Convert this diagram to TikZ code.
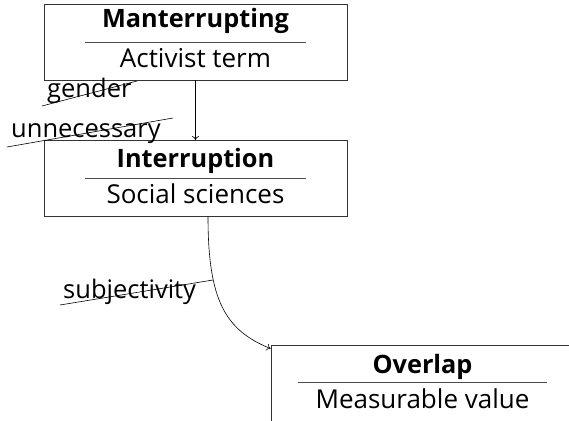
\documentclass[tikz,border=0pt]{standalone}
\usepackage{fontspec}
\setmainfont{Open Sans}
\usetikzlibrary{arrows.meta}
\begin{document}
\begin{tikzpicture}[x=1pt,y=-1pt,
  box/.style={draw=black!80,line width=0.8pt,minimum width=303pt,minimum height=76pt,inner sep=0pt},
  ttl/.style={anchor=base,font=\fontsize{25.3}{28}\selectfont\bfseries,inner sep=0pt},
  bdy/.style={anchor=base,font=\fontsize{26}{28}\selectfont,inner sep=0pt},
  lab/.style={anchor=base west,font=\fontsize{25.5}{28}\selectfont,inner sep=0pt},
  rl/.style={draw=black!70,line width=0.8pt},
  strike/.style={draw=black,line width=0.6pt},
  conn/.style={draw=black,line width=0.6pt,-{To[length=4pt,width=7pt]}}]
\useasboundingbox (0,0) rectangle (569,420);
\clip (0,0) rectangle (569,420);
% boxes
\node[box] (b1) at (195.5,42) {};
\node[box] (b2) at (195.5,178.5) {};
\node[box] (b3) at (422.5,383) {};
% texts
\node[ttl] (t1) at (195.5,28) {Manterrupting};
\node[bdy] (d1) at (195.5,67) {Activist term};
\node[ttl] (t2) at (195.5,167) {Interruption};
\node[bdy] (d2) at (195.5,203) {Social sciences};
\node[ttl] (t3) at (422.5,373) {Overlap};
\node[bdy] (d3) at (422.5,408) {Measurable value};
% rules
\coordinate (r1a) at (85,42); \coordinate (r1b) at (306,42);
\coordinate (r2a) at (85,178); \coordinate (r2b) at (306,178);
\coordinate (r3a) at (298,382); \coordinate (r3b) at (547,382);
\draw[rl] (r1a) -- (r1b);
\draw[rl] (r2a) -- (r2b);
\draw[rl] (r3a) -- (r3b);
% connectors
\draw[conn] (b1.south) -- (b2.north);
\coordinate (s2) at (208,216.5);
\draw[conn] (s2) .. controls (208,300) and (225,330) .. ([yshift=-4pt]b3.north west);
% labels
\node[lab] (l1) at (47,97) {gender};
\node[lab] (l2) at (11,137) {unnecessary};
\node[lab] (l3) at (63,298) {subjectivity};
\coordinate (k1a) at (42,106); \coordinate (k1b) at (137,81);
\coordinate (k2a) at (7,147); \coordinate (k2b) at (173,118);
\coordinate (k3a) at (60,305); \coordinate (k3b) at (213,280);
\draw[strike] (k1a) -- (k1b);
\draw[strike] (k2a) -- (k2b);
\draw[strike] (k3a) -- (k3b);
\end{tikzpicture}
\end{document}
